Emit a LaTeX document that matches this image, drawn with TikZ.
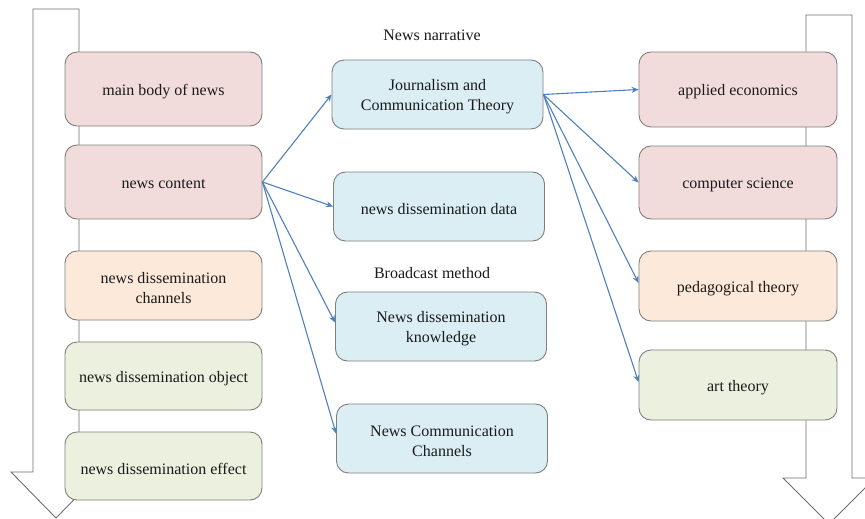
\documentclass[tikz,border=0pt]{standalone}
\usepackage{fontspec}
\setmainfont{Liberation Serif}
\newfontfamily\tnr{Liberation Serif}
\usetikzlibrary{arrows.meta}
\definecolor{pinkf}{HTML}{F2DCDB}
\definecolor{peachf}{HTML}{FDE9D9}
\definecolor{greenf}{HTML}{EBF1DE}
\definecolor{bluef}{HTML}{DAEEF3}
\definecolor{boxline}{HTML}{7F7F7F}
\definecolor{bigline}{HTML}{6E6E6E}
\definecolor{conn}{HTML}{4F81BD}
\definecolor{txt}{HTML}{1A1A1A}
\tikzset{
  lbl/.style={text=txt, font=\tnr\fontsize{16}{20}\selectfont, inner sep=0pt, align=center},
  box/.style={draw=boxline, line width=0.9pt, rounded corners=12pt, inner sep=0pt},
  leftbox/.style={box, minimum width=197pt},
  midbox/.style={box, minimum width=211pt, minimum height=69pt},
  rightbox/.style={box, minimum width=198pt},
  txtin/.style={label={[lbl, yshift=-2.5pt]center:#1}},
  bigarrow/.style={draw=bigline, line width=0.9pt, fill=white},
  conn/.style={draw=conn, line width=1.1pt, -{Stealth[length=7pt,width=6pt]}}
}
\begin{document}
\begin{tikzpicture}[x=1pt,y=-1pt]
\clip (0,0) rectangle (865,519);
\useasboundingbox (0,0) rectangle (865,519);
\fill[white] (0,0) rectangle (865,519);
% big arrows
\draw[bigarrow] (33,9) -- (79,9) -- (79,472) -- (101,472) -- (56,518) -- (11,472) -- (33,472) -- cycle;
\draw[bigarrow] (806,15) -- (852,15) -- (852,478) -- (875,478) -- (829,524) -- (783,478) -- (806,478) -- cycle;
% left boxes
\node[leftbox, fill=pinkf, minimum height=74pt, txtin={main body of news}] (l1) at (163.5,89) {};
\node[leftbox, fill=pinkf, minimum height=74pt, txtin={news content}] (l2) at (163.5,182) {};
\node[leftbox, fill=peachf, minimum height=69pt, txtin={news dissemination\\channels}] (l3) at (163.5,285.5) {};
\node[leftbox, fill=greenf, minimum height=68pt, txtin={news dissemination object}] (l4) at (163.5,376) {};
\node[leftbox, fill=greenf, minimum height=68pt, txtin={news dissemination effect}] (l5) at (163.5,466) {};
% middle boxes
\node[midbox, fill=bluef, txtin={Journalism and\\Communication Theory}] (m1) at (437.5,94.5) {};
\node[midbox, fill=bluef, txtin={news dissemination data}] (m2) at (439,206.5) {};
\node[midbox, fill=bluef, txtin={News dissemination\\knowledge}] (m3) at (441,326.5) {};
\node[midbox, fill=bluef, txtin={News Communication\\Channels}] (m4) at (442,438.5) {};
% labels
\node[lbl] (t1) at (432,35.5) {News narrative};
\node[lbl] (t2) at (432,273) {Broadcast method};
% right boxes
\node[rightbox, fill=pinkf, minimum height=75pt, txtin={applied economics}] (r1) at (738,89.5) {};
\node[rightbox, fill=pinkf, minimum height=73pt, txtin={computer science}] (r2) at (738,182.5) {};
\node[rightbox, fill=peachf, minimum height=70pt, txtin={pedagogical theory}] (r3) at (738,286) {};
\node[rightbox, fill=greenf, minimum height=70pt, txtin={art theory}] (r4) at (738,385) {};
% connectors
\draw[conn] (l2.east) -- (m1.west);
\draw[conn] (l2.east) -- (m2.west);
\draw[conn] (l2.east) -- ([yshift=4pt]m3.west);
\draw[conn] (l2.east) -- ([yshift=5pt]m4.west);
\draw[conn] (m1.east) -- (r1.west);
\draw[conn] (m1.east) -- (r2.west);
\draw[conn] (m1.east) -- ([yshift=3pt]r3.west);
\draw[conn] (m1.east) -- ([yshift=3pt]r4.west);
\end{tikzpicture}
\end{document}
